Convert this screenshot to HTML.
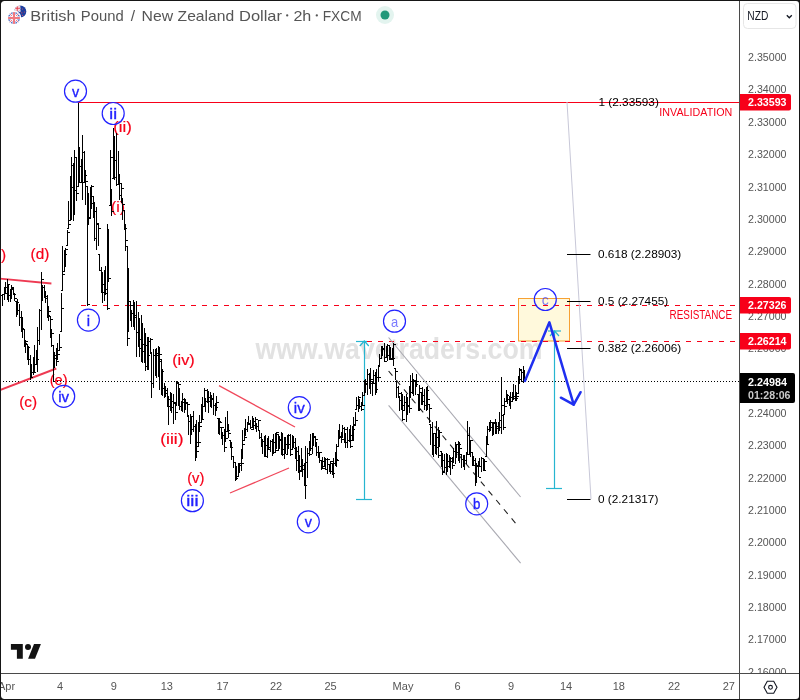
<!DOCTYPE html>
<html><head><meta charset="utf-8"><style>
html,body{margin:0;padding:0;background:#161616;width:800px;height:700px;overflow:hidden}
svg{display:block;font-family:"Liberation Sans",sans-serif;will-change:transform}
</style></head><body>
<svg width="800" height="700" viewBox="0 0 800 700">
<rect x="0" y="0" width="800" height="700" fill="#161616"/><rect x="1" y="1" width="798" height="698" rx="3" fill="#ffffff"/><text x="255.5" y="358.8" font-size="29" font-weight="bold" fill="#e2e2e2" textLength="287" lengthAdjust="spacingAndGlyphs">www.wavetraders.com</text><rect x="518.5" y="298.5" width="51" height="42.5" fill="#fff9dc" stroke="#f7a133" stroke-width="1"/><line x1="78" y1="102.5" x2="739" y2="102.5" stroke="#f70019" stroke-width="1"/><line x1="81" y1="305.5" x2="739" y2="305.5" stroke="#f70019" stroke-width="1" stroke-dasharray="5 6"/><line x1="367" y1="341.5" x2="739" y2="341.5" stroke="#f70019" stroke-width="1" stroke-dasharray="5 6"/><line x1="0" y1="381.5" x2="739" y2="381.5" stroke="#000" stroke-width="1" stroke-dasharray="1 2"/><g stroke="#ee3a52" stroke-width="1.9" fill="none"><line x1="0" y1="278.6" x2="51.4" y2="283.5"/><line x1="0" y1="390" x2="56.3" y2="368.5"/></g><g stroke="#f0475a" stroke-width="1.25" fill="none"><line x1="219" y1="385.6" x2="295" y2="427"/><line x1="230" y1="493" x2="289" y2="468"/></g><g stroke="#a8a8b0" stroke-width="1.1" fill="none"><line x1="388.6" y1="337.5" x2="520.6" y2="497"/><line x1="388.6" y1="405.4" x2="520.6" y2="563.1"/></g><line x1="388.6" y1="371" x2="518.8" y2="527.1" stroke="#222" stroke-width="1.1" stroke-dasharray="6 6"/><line x1="567" y1="102" x2="591" y2="499" stroke="#c8c8d8" stroke-width="1"/><line x1="567" y1="254.5" x2="590.5" y2="254.5" stroke="#000" stroke-width="1"/><text x="598" y="257.7" font-size="11.8" fill="#000">0.618 (2.28903)</text><line x1="567" y1="301.5" x2="590.5" y2="301.5" stroke="#000" stroke-width="1"/><text x="598" y="304.7" font-size="11.8" fill="#000">0.5 (2.27455)</text><line x1="567" y1="348.5" x2="590.5" y2="348.5" stroke="#000" stroke-width="1"/><text x="598" y="351.7" font-size="11.8" fill="#000">0.382 (2.26006)</text><line x1="567" y1="499.5" x2="590.5" y2="499.5" stroke="#000" stroke-width="1"/><text x="598" y="502.7" font-size="11.8" fill="#000">0 (2.21317)</text><text x="598.5" y="106" font-size="11.8" fill="#000">1 (2.33593)</text><text x="659.3" y="116" font-size="11.6" fill="#f70019" textLength="73" lengthAdjust="spacingAndGlyphs">INVALIDATION</text><text x="669.6" y="318.8" font-size="12" fill="#f70019" textLength="62.5" lengthAdjust="spacingAndGlyphs">RESISTANCE</text><g stroke="#26b5d0" stroke-width="1.2" fill="none"><line x1="364.5" y1="341.5" x2="364.5" y2="499.5"/><line x1="356" y1="499.5" x2="372" y2="499.5"/><line x1="356" y1="341.5" x2="367" y2="341.5"/><polyline points="359.8,346 364.3,341 368.8,346"/><line x1="554.5" y1="331" x2="554.5" y2="488.5"/><line x1="546" y1="488.5" x2="562" y2="488.5"/><line x1="548" y1="331" x2="561" y2="331"/><polyline points="550,336 554.5,331 559,336"/></g><text x="118" y="211.5" text-anchor="middle" font-size="15" fill="#f70019" stroke="#f70019" stroke-width="0.2" textLength="14.0" lengthAdjust="spacingAndGlyphs">(i)</text><text x="122.5" y="131.5" text-anchor="middle" font-size="15" fill="#f70019" stroke="#f70019" stroke-width="0.2" textLength="18.5" lengthAdjust="spacingAndGlyphs">(ii)</text><text x="40" y="258.6" text-anchor="middle" font-size="15" fill="#f70019" stroke="#f70019" stroke-width="0.2" textLength="18.8" lengthAdjust="spacingAndGlyphs">(d)</text><text x="-3.3" y="259.6" text-anchor="middle" font-size="15" fill="#f70019" stroke="#f70019" stroke-width="0.2" textLength="18.8" lengthAdjust="spacingAndGlyphs">(b)</text><text x="58.7" y="385.3" text-anchor="middle" font-size="15" fill="#f70019" stroke="#f70019" stroke-width="0.2" textLength="18.0" lengthAdjust="spacingAndGlyphs">(e)</text><text x="28.1" y="406.5" text-anchor="middle" font-size="15" fill="#f70019" stroke="#f70019" stroke-width="0.2" textLength="17.9" lengthAdjust="spacingAndGlyphs">(c)</text><text x="183.4" y="365.1" text-anchor="middle" font-size="15" fill="#f70019" stroke="#f70019" stroke-width="0.2" textLength="22.5" lengthAdjust="spacingAndGlyphs">(iv)</text><text x="171.9" y="443.8" text-anchor="middle" font-size="15" fill="#f70019" stroke="#f70019" stroke-width="0.2" textLength="23.2" lengthAdjust="spacingAndGlyphs">(iii)</text><text x="195.8" y="482.9" text-anchor="middle" font-size="15" fill="#f70019" stroke="#f70019" stroke-width="0.2" textLength="17.2" lengthAdjust="spacingAndGlyphs">(v)</text><path d="M0.5 294V303M-1.5 300.5h2M0.5 295.5h2M2.5 294V306M0.5 295.5h2M2.5 294.5h2M4.5 287V300M2.5 294.5h2M4.5 293.5h2M5.5 282V293M3.5 293.5h2M5.5 287.5h2M7.5 279V300M5.5 287.5h2M7.5 284.5h2M8.5 285V302M6.5 285.5h2M8.5 295.5h2M10.5 289V302M8.5 295.5h2M10.5 289.5h2M11.5 285V299M9.5 289.5h2M11.5 287.5h2M13.5 288V295M11.5 288.5h2M13.5 294.5h2M14.5 293V301M12.5 294.5h2M14.5 298.5h2M16.5 301V317M14.5 301.5h2M16.5 302.5h2M17.5 299V315M15.5 302.5h2M17.5 310.5h2M19.5 304V326M17.5 310.5h2M19.5 317.5h2M21.5 311V332M19.5 317.5h2M21.5 328.5h2M22.5 317V338M20.5 328.5h2M22.5 329.5h2M24.5 329V347M22.5 329.5h2M24.5 343.5h2M25.5 340V353M23.5 343.5h2M25.5 341.5h2M27.5 344V360M25.5 344.5h2M27.5 347.5h2M28.5 346V365M26.5 347.5h2M28.5 359.5h2M30.5 355V380M28.5 359.5h2M30.5 377.5h2M31.5 364V377M29.5 377.5h2M31.5 372.5h2M33.5 357V375M31.5 372.5h2M33.5 372.5h2M34.5 345V373M32.5 372.5h2M34.5 364.5h2M36.5 350V364M34.5 364.5h2M36.5 359.5h2M37.5 327V372M35.5 359.5h2M37.5 340.5h2M39.5 309V345M37.5 340.5h2M39.5 310.5h2M41.5 272V330M39.5 310.5h2M41.5 279.5h2M42.5 285V301M40.5 285.5h2M42.5 287.5h2M44.5 285V298M42.5 287.5h2M44.5 296.5h2M45.5 291V303M43.5 296.5h2M45.5 298.5h2M47.5 295V318M45.5 298.5h2M47.5 315.5h2M48.5 306V321M46.5 315.5h2M48.5 311.5h2M50.5 316V338M48.5 316.5h2M50.5 319.5h2M51.5 329V347M49.5 329.5h2M51.5 333.5h2M53.5 345V382M51.5 345.5h2M53.5 355.5h2M54.5 352V368M52.5 355.5h2M54.5 358.5h2M56.5 348V366M54.5 358.5h2M56.5 361.5h2M57.5 343V359M55.5 359.5h2M57.5 354.5h2M59.5 334V350M57.5 350.5h2M59.5 347.5h2M61.5 293V331M59.5 331.5h2M61.5 308.5h2M62.5 246V290M60.5 290.5h2M62.5 274.5h2M64.5 250V271M62.5 271.5h2M64.5 254.5h2M65.5 248V267M63.5 254.5h2M65.5 249.5h2M67.5 230V245M65.5 245.5h2M67.5 232.5h2M68.5 201V228M66.5 228.5h2M68.5 224.5h2M70.5 176V220M68.5 220.5h2M70.5 187.5h2M71.5 157V220M69.5 187.5h2M71.5 165.5h2M73.5 163V221M71.5 165.5h2M73.5 190.5h2M74.5 150V215M72.5 190.5h2M74.5 157.5h2M76.5 157V201M74.5 157.5h2M76.5 193.5h2M78.5 103V186M76.5 186.5h2M78.5 182.5h2M79.5 147V182M77.5 182.5h2M79.5 166.5h2M81.5 159V182M79.5 166.5h2M81.5 182.5h2M82.5 135V200M80.5 182.5h2M82.5 152.5h2M84.5 151V183M82.5 152.5h2M84.5 175.5h2M85.5 170V205M83.5 175.5h2M85.5 181.5h2M87.5 186V306M85.5 186.5h2M87.5 304.5h2M88.5 193V224M86.5 224.5h2M88.5 218.5h2M90.5 187V217M88.5 217.5h2M90.5 203.5h2M91.5 185V209M89.5 203.5h2M91.5 186.5h2M93.5 196V218M91.5 196.5h2M93.5 211.5h2M94.5 202V241M92.5 211.5h2M94.5 238.5h2M96.5 207V250M94.5 238.5h2M96.5 223.5h2M98.5 224V246M96.5 224.5h2M98.5 228.5h2M99.5 254V271M97.5 254.5h2M99.5 270.5h2M101.5 267V293M99.5 270.5h2M101.5 284.5h2M102.5 272V303M100.5 284.5h2M102.5 292.5h2M104.5 270V301M102.5 292.5h2M104.5 293.5h2M105.5 266V295M103.5 293.5h2M105.5 289.5h2M107.5 224V310M105.5 289.5h2M107.5 308.5h2M108.5 229V281M106.5 281.5h2M108.5 278.5h2M110.5 150V205M108.5 205.5h2M110.5 157.5h2M111.5 189V216M109.5 189.5h2M111.5 211.5h2M113.5 128V178M111.5 178.5h2M113.5 177.5h2M114.5 136V180M112.5 177.5h2M114.5 160.5h2M116.5 133V186M114.5 160.5h2M116.5 184.5h2M118.5 151V185M116.5 184.5h2M118.5 183.5h2M119.5 174V200M117.5 183.5h2M119.5 195.5h2M121.5 183V203M119.5 195.5h2M121.5 188.5h2M122.5 198V220M120.5 198.5h2M122.5 204.5h2M124.5 210V230M122.5 210.5h2M124.5 228.5h2M125.5 224V251M123.5 228.5h2M125.5 240.5h2M127.5 246V346M125.5 246.5h2M127.5 338.5h2M128.5 268V331M126.5 331.5h2M128.5 301.5h2M130.5 301V321M128.5 301.5h2M130.5 305.5h2M131.5 310V327M129.5 310.5h2M131.5 313.5h2M133.5 300V327M131.5 313.5h2M133.5 315.5h2M134.5 302V330M132.5 315.5h2M134.5 317.5h2M136.5 301V357M134.5 317.5h2M136.5 332.5h2M138.5 312V347M136.5 332.5h2M138.5 339.5h2M139.5 318V357M137.5 339.5h2M139.5 348.5h2M141.5 315V362M139.5 348.5h2M141.5 344.5h2M142.5 323V363M140.5 344.5h2M142.5 351.5h2M144.5 328V363M142.5 351.5h2M144.5 345.5h2M145.5 333V371M143.5 345.5h2M145.5 366.5h2M147.5 337V370M145.5 366.5h2M147.5 355.5h2M148.5 337V370M146.5 355.5h2M148.5 341.5h2M150.5 338V354M148.5 341.5h2M150.5 339.5h2M151.5 352V398M149.5 352.5h2M151.5 383.5h2M153.5 349V388M151.5 383.5h2M153.5 355.5h2M155.5 349V376M153.5 355.5h2M155.5 353.5h2M156.5 348V378M154.5 353.5h2M156.5 355.5h2M158.5 346V377M156.5 355.5h2M158.5 361.5h2M159.5 347V390M157.5 361.5h2M159.5 354.5h2M161.5 359V395M159.5 359.5h2M161.5 371.5h2M162.5 369V396M160.5 371.5h2M162.5 388.5h2M164.5 383V398M162.5 388.5h2M164.5 390.5h2M165.5 386V397M163.5 390.5h2M165.5 393.5h2M167.5 388V407M165.5 393.5h2M167.5 406.5h2M168.5 396V425M166.5 406.5h2M168.5 399.5h2M170.5 392V411M168.5 399.5h2M170.5 407.5h2M171.5 393V413M169.5 407.5h2M171.5 401.5h2M173.5 394V424M171.5 401.5h2M173.5 402.5h2M175.5 403V420M173.5 403.5h2M175.5 412.5h2M176.5 381V405M174.5 405.5h2M176.5 382.5h2M178.5 383V406M176.5 383.5h2M178.5 384.5h2M179.5 388V410M177.5 388.5h2M179.5 406.5h2M181.5 401V411M179.5 406.5h2M181.5 402.5h2M182.5 393V412M180.5 402.5h2M182.5 399.5h2M184.5 398V413M182.5 399.5h2M184.5 402.5h2M185.5 399V410M183.5 402.5h2M185.5 402.5h2M187.5 403V417M185.5 403.5h2M187.5 404.5h2M188.5 415V435M186.5 415.5h2M188.5 421.5h2M190.5 414V444M188.5 421.5h2M190.5 429.5h2M191.5 416V435M189.5 429.5h2M191.5 416.5h2M193.5 411V432M191.5 416.5h2M193.5 426.5h2M195.5 424V461M193.5 426.5h2M195.5 442.5h2M196.5 420V458M194.5 442.5h2M196.5 451.5h2M198.5 422V446M196.5 446.5h2M198.5 442.5h2M199.5 415V431M197.5 431.5h2M199.5 426.5h2M201.5 404V422M199.5 422.5h2M201.5 419.5h2M202.5 397V418M200.5 418.5h2M202.5 406.5h2M204.5 388V407M202.5 406.5h2M204.5 390.5h2M205.5 398V412M203.5 398.5h2M205.5 401.5h2M207.5 389V403M205.5 401.5h2M207.5 401.5h2M208.5 391V413M206.5 401.5h2M208.5 397.5h2M210.5 392V407M208.5 397.5h2M210.5 399.5h2M211.5 395V408M209.5 399.5h2M211.5 398.5h2M213.5 393V415M211.5 398.5h2M213.5 405.5h2M215.5 403V416M213.5 405.5h2M215.5 407.5h2M216.5 396V411M214.5 407.5h2M216.5 402.5h2M218.5 418V434M216.5 418.5h2M218.5 421.5h2M219.5 418V435M217.5 421.5h2M219.5 422.5h2M221.5 427V439M219.5 427.5h2M221.5 427.5h2M222.5 432V445M220.5 432.5h2M222.5 435.5h2M224.5 429V452M222.5 435.5h2M224.5 447.5h2M225.5 417V441M223.5 441.5h2M225.5 438.5h2M227.5 411V431M225.5 431.5h2M227.5 430.5h2M228.5 424V438M226.5 430.5h2M228.5 433.5h2M230.5 440V448M228.5 440.5h2M230.5 447.5h2M231.5 442V460M229.5 447.5h2M231.5 456.5h2M233.5 456V468M231.5 456.5h2M233.5 462.5h2M235.5 462V481M233.5 462.5h2M235.5 478.5h2M236.5 466V480M234.5 478.5h2M236.5 476.5h2M238.5 463V477M236.5 476.5h2M238.5 463.5h2M239.5 464V473M237.5 464.5h2M239.5 465.5h2M241.5 449V471M239.5 465.5h2M241.5 463.5h2M242.5 430V458M240.5 458.5h2M242.5 444.5h2M244.5 428V440M242.5 440.5h2M244.5 437.5h2M245.5 419V435M243.5 435.5h2M245.5 429.5h2M247.5 422V432M245.5 429.5h2M247.5 424.5h2M248.5 416V425M246.5 424.5h2M248.5 423.5h2M250.5 420V429M248.5 423.5h2M250.5 429.5h2M252.5 416V427M250.5 427.5h2M252.5 421.5h2M253.5 418V430M251.5 421.5h2M253.5 425.5h2M255.5 417V429M253.5 425.5h2M255.5 419.5h2M256.5 423V432M254.5 423.5h2M256.5 426.5h2M258.5 420V431M256.5 426.5h2M258.5 420.5h2M259.5 430V439M257.5 430.5h2M259.5 437.5h2M261.5 433V447M259.5 437.5h2M261.5 441.5h2M262.5 439V454M260.5 441.5h2M262.5 441.5h2M264.5 436V456M262.5 441.5h2M264.5 456.5h2M265.5 435V456M263.5 456.5h2M265.5 445.5h2M267.5 438V458M265.5 445.5h2M267.5 447.5h2M268.5 436V450M266.5 447.5h2M268.5 449.5h2M270.5 440V452M268.5 449.5h2M270.5 441.5h2M272.5 439V456M270.5 441.5h2M272.5 442.5h2M273.5 434V454M271.5 442.5h2M273.5 452.5h2M275.5 433V452M273.5 452.5h2M275.5 450.5h2M276.5 432V448M274.5 448.5h2M276.5 432.5h2M278.5 434V451M276.5 434.5h2M278.5 439.5h2M279.5 436V449M277.5 439.5h2M279.5 440.5h2M281.5 432V455M279.5 440.5h2M281.5 449.5h2M282.5 433V456M280.5 449.5h2M282.5 454.5h2M284.5 437V459M282.5 454.5h2M284.5 444.5h2M285.5 437V454M283.5 444.5h2M285.5 454.5h2M287.5 435V455M285.5 454.5h2M287.5 444.5h2M288.5 434V449M286.5 444.5h2M288.5 435.5h2M290.5 434V456M288.5 435.5h2M290.5 454.5h2M292.5 435V449M290.5 449.5h2M292.5 442.5h2M293.5 436V448M291.5 442.5h2M293.5 448.5h2M295.5 438V459M293.5 448.5h2M295.5 451.5h2M296.5 447V471M294.5 451.5h2M296.5 460.5h2M298.5 446V473M296.5 460.5h2M298.5 466.5h2M299.5 455V480M297.5 466.5h2M299.5 471.5h2M301.5 448V470M299.5 470.5h2M301.5 469.5h2M302.5 459V477M300.5 469.5h2M302.5 465.5h2M304.5 463V486M302.5 465.5h2M304.5 485.5h2M305.5 446V499M303.5 485.5h2M305.5 462.5h2M307.5 448V478M305.5 462.5h2M307.5 453.5h2M309.5 441V456M307.5 453.5h2M309.5 454.5h2M310.5 434V450M308.5 450.5h2M310.5 448.5h2M312.5 433V454M310.5 448.5h2M312.5 436.5h2M313.5 433V446M311.5 436.5h2M313.5 437.5h2M315.5 436V447M313.5 437.5h2M315.5 439.5h2M316.5 442V456M314.5 442.5h2M316.5 452.5h2M318.5 446V458M316.5 452.5h2M318.5 452.5h2M319.5 452V463M317.5 452.5h2M319.5 452.5h2M321.5 460V470M319.5 460.5h2M321.5 461.5h2M322.5 457V469M320.5 461.5h2M322.5 468.5h2M324.5 457V466M322.5 466.5h2M324.5 459.5h2M325.5 458V470M323.5 459.5h2M325.5 469.5h2M327.5 458V474M325.5 469.5h2M327.5 459.5h2M329.5 464V472M327.5 464.5h2M329.5 471.5h2M330.5 461V474M328.5 471.5h2M330.5 461.5h2M332.5 463V475M330.5 463.5h2M332.5 473.5h2M333.5 458V478M331.5 473.5h2M333.5 463.5h2M335.5 452V466M333.5 463.5h2M335.5 459.5h2M336.5 444V467M334.5 459.5h2M336.5 460.5h2M338.5 430V446M336.5 446.5h2M338.5 437.5h2M339.5 424V439M337.5 437.5h2M339.5 436.5h2M341.5 432V443M339.5 436.5h2M341.5 439.5h2M342.5 425V437M340.5 437.5h2M342.5 428.5h2M344.5 427V443M342.5 428.5h2M344.5 429.5h2M345.5 433V448M343.5 433.5h2M345.5 442.5h2M347.5 427V448M345.5 442.5h2M347.5 440.5h2M349.5 429V442M347.5 440.5h2M349.5 435.5h2M350.5 425V448M348.5 435.5h2M350.5 446.5h2M352.5 426V440M350.5 440.5h2M352.5 429.5h2M353.5 417V441M351.5 429.5h2M353.5 425.5h2M355.5 412V424M353.5 424.5h2M355.5 420.5h2M356.5 397V409M354.5 409.5h2M356.5 405.5h2M358.5 396V412M356.5 405.5h2M358.5 397.5h2M359.5 399V409M357.5 399.5h2M359.5 406.5h2M361.5 402V411M359.5 406.5h2M361.5 409.5h2M362.5 392V405M360.5 405.5h2M362.5 405.5h2M364.5 380V395M362.5 395.5h2M364.5 384.5h2M365.5 379V393M363.5 384.5h2M365.5 383.5h2M367.5 369V395M365.5 383.5h2M367.5 374.5h2M369.5 373V389M367.5 374.5h2M369.5 383.5h2M370.5 368V394M368.5 383.5h2M370.5 379.5h2M372.5 381V396M370.5 381.5h2M372.5 383.5h2M373.5 370V383M371.5 383.5h2M373.5 375.5h2M375.5 372V395M373.5 375.5h2M375.5 389.5h2M376.5 369V393M374.5 389.5h2M376.5 377.5h2M378.5 365V381M376.5 377.5h2M378.5 377.5h2M379.5 354V366M377.5 366.5h2M379.5 358.5h2M381.5 346V359M379.5 358.5h2M381.5 348.5h2M382.5 346V356M380.5 348.5h2M382.5 349.5h2M384.5 343V362M382.5 349.5h2M384.5 361.5h2M386.5 346V357M384.5 357.5h2M386.5 355.5h2M387.5 344V361M385.5 355.5h2M387.5 345.5h2M389.5 345V360M387.5 345.5h2M389.5 359.5h2M390.5 347V359M388.5 359.5h2M390.5 358.5h2M392.5 348V360M390.5 358.5h2M392.5 358.5h2M393.5 343V366M391.5 358.5h2M393.5 344.5h2M395.5 368V380M393.5 368.5h2M395.5 371.5h2M396.5 381V398M394.5 381.5h2M396.5 387.5h2M398.5 386V398M396.5 387.5h2M398.5 393.5h2M399.5 396V411M397.5 396.5h2M399.5 400.5h2M401.5 392V410M399.5 400.5h2M401.5 405.5h2M402.5 394V421M400.5 405.5h2M402.5 419.5h2M404.5 396V410M402.5 410.5h2M404.5 402.5h2M406.5 394V422M404.5 402.5h2M406.5 405.5h2M407.5 397V415M405.5 405.5h2M407.5 406.5h2M409.5 386V413M407.5 406.5h2M409.5 408.5h2M410.5 375V397M408.5 397.5h2M410.5 392.5h2M412.5 373V394M410.5 392.5h2M412.5 380.5h2M413.5 379V396M411.5 380.5h2M413.5 380.5h2M415.5 380V395M413.5 380.5h2M415.5 384.5h2M416.5 374V387M414.5 384.5h2M416.5 381.5h2M418.5 394V411M416.5 394.5h2M418.5 409.5h2M419.5 385V411M417.5 409.5h2M419.5 388.5h2M421.5 392V405M419.5 392.5h2M421.5 401.5h2M422.5 387V405M420.5 401.5h2M422.5 395.5h2M424.5 389V410M422.5 395.5h2M424.5 405.5h2M426.5 387V411M424.5 405.5h2M426.5 390.5h2M427.5 386V410M425.5 390.5h2M427.5 399.5h2M429.5 404V423M427.5 404.5h2M429.5 408.5h2M430.5 424V445M428.5 424.5h2M430.5 427.5h2M432.5 422V455M430.5 427.5h2M432.5 433.5h2M433.5 433V457M431.5 433.5h2M433.5 445.5h2M435.5 433V454M433.5 445.5h2M435.5 447.5h2M436.5 421V455M434.5 447.5h2M436.5 437.5h2M438.5 427V458M436.5 437.5h2M438.5 455.5h2M439.5 430V446M437.5 446.5h2M439.5 432.5h2M441.5 451V467M439.5 451.5h2M441.5 460.5h2M442.5 453V475M440.5 460.5h2M442.5 472.5h2M444.5 454V471M442.5 471.5h2M444.5 467.5h2M446.5 453V475M444.5 467.5h2M446.5 466.5h2M447.5 454V472M445.5 466.5h2M447.5 461.5h2M449.5 455V468M447.5 461.5h2M449.5 458.5h2M450.5 457V475M448.5 458.5h2M450.5 461.5h2M452.5 457V469M450.5 461.5h2M452.5 465.5h2M453.5 448V462M451.5 462.5h2M453.5 451.5h2M455.5 442V464M453.5 451.5h2M455.5 444.5h2M456.5 445V458M454.5 445.5h2M456.5 452.5h2M458.5 441V461M456.5 452.5h2M458.5 444.5h2M459.5 442V463M457.5 444.5h2M459.5 448.5h2M461.5 454V468M459.5 454.5h2M461.5 459.5h2M463.5 455V467M461.5 459.5h2M463.5 460.5h2M464.5 455V470M462.5 460.5h2M464.5 460.5h2M466.5 452V464M464.5 460.5h2M466.5 454.5h2M467.5 421V455M465.5 454.5h2M467.5 435.5h2M469.5 427V455M467.5 435.5h2M469.5 452.5h2M470.5 440V457M468.5 452.5h2M470.5 440.5h2M472.5 452V466M470.5 452.5h2M472.5 465.5h2M473.5 456V466M471.5 465.5h2M473.5 460.5h2M475.5 458V486M473.5 460.5h2M475.5 466.5h2M476.5 463V483M474.5 466.5h2M476.5 465.5h2M478.5 461V477M476.5 465.5h2M478.5 477.5h2M479.5 458V466M477.5 466.5h2M479.5 466.5h2M481.5 457V472M479.5 466.5h2M481.5 458.5h2M483.5 458V471M481.5 458.5h2M483.5 470.5h2M484.5 459V471M482.5 470.5h2M484.5 461.5h2M486.5 436V456M484.5 456.5h2M486.5 444.5h2M487.5 426V444M485.5 444.5h2M487.5 429.5h2M489.5 422V432M487.5 429.5h2M489.5 427.5h2M490.5 420V431M488.5 427.5h2M490.5 422.5h2M492.5 422V436M490.5 422.5h2M492.5 422.5h2M493.5 422V435M491.5 422.5h2M493.5 423.5h2M495.5 419V434M493.5 423.5h2M495.5 428.5h2M496.5 422V434M494.5 428.5h2M496.5 426.5h2M498.5 422V434M496.5 426.5h2M498.5 427.5h2M499.5 412V431M497.5 427.5h2M499.5 420.5h2M501.5 377V434M499.5 420.5h2M501.5 405.5h2M503.5 415V430M501.5 415.5h2M503.5 427.5h2M504.5 398V414M502.5 414.5h2M504.5 406.5h2M506.5 390V401M504.5 401.5h2M506.5 395.5h2M507.5 394V404M505.5 395.5h2M507.5 399.5h2M509.5 396V406M507.5 399.5h2M509.5 397.5h2M510.5 392V409M508.5 397.5h2M510.5 401.5h2M512.5 392V401M510.5 401.5h2M512.5 396.5h2M513.5 384V400M511.5 396.5h2M513.5 398.5h2M515.5 385V401M513.5 398.5h2M515.5 398.5h2M516.5 392V401M514.5 398.5h2M516.5 396.5h2M518.5 376V393M516.5 393.5h2M518.5 379.5h2M519.5 368V384M517.5 379.5h2M519.5 369.5h2M521.5 370V382M519.5 370.5h2M521.5 372.5h2M523.5 366V383M521.5 372.5h2M523.5 379.5h2M524.5 370V379M522.5 379.5h2M524.5 379.5h2" stroke="#000" stroke-width="1" fill="none" shape-rendering="crispEdges"/><circle cx="545.3" cy="299.5" r="11" fill="none" stroke="#2222ff" stroke-width="1.2"/><text x="545.3" y="304.9" text-anchor="middle" font-size="15" fill="#2222ff" stroke="#2222ff" stroke-width="0" opacity="0.6" textLength="7.0" lengthAdjust="spacingAndGlyphs">c</text><circle cx="75.5" cy="91.2" r="11" fill="none" stroke="#2222ff" stroke-width="1.2"/><text x="75.5" y="96.6" text-anchor="middle" font-size="15" fill="#2222ff" stroke="#2222ff" stroke-width="0.35" textLength="7.2" lengthAdjust="spacingAndGlyphs">v</text><circle cx="113.2" cy="113.5" r="11" fill="none" stroke="#2222ff" stroke-width="1.2"/><text x="113.2" y="118.9" text-anchor="middle" font-size="15" fill="#2222ff" stroke="#2222ff" stroke-width="0.35" textLength="7.7" lengthAdjust="spacingAndGlyphs">ii</text><circle cx="88.4" cy="320.1" r="11" fill="none" stroke="#2222ff" stroke-width="1.2"/><text x="88.4" y="325.5" text-anchor="middle" font-size="15" fill="#2222ff" stroke="#2222ff" stroke-width="0.35" textLength="3.3" lengthAdjust="spacingAndGlyphs">i</text><circle cx="63.7" cy="396.3" r="11" fill="none" stroke="#2222ff" stroke-width="1.2"/><text x="63.7" y="401.7" text-anchor="middle" font-size="15" fill="#2222ff" stroke="#2222ff" stroke-width="0.35" textLength="10.9" lengthAdjust="spacingAndGlyphs">iv</text><circle cx="192.4" cy="500.7" r="11" fill="none" stroke="#2222ff" stroke-width="1.2"/><text x="192.4" y="506.1" text-anchor="middle" font-size="15" fill="#2222ff" stroke="#2222ff" stroke-width="0.35" textLength="12.2" lengthAdjust="spacingAndGlyphs">iii</text><circle cx="299.3" cy="407.6" r="11" fill="none" stroke="#2222ff" stroke-width="1.2"/><text x="299.3" y="413.0" text-anchor="middle" font-size="15" fill="#2222ff" stroke="#2222ff" stroke-width="0.35" textLength="10.9" lengthAdjust="spacingAndGlyphs">iv</text><circle cx="308.3" cy="521.8" r="11" fill="none" stroke="#2222ff" stroke-width="1.2"/><text x="308.3" y="527.2" text-anchor="middle" font-size="15" fill="#2222ff" stroke="#2222ff" stroke-width="0.35" textLength="7.2" lengthAdjust="spacingAndGlyphs">v</text><circle cx="394.5" cy="321.2" r="11" fill="none" stroke="#2222ff" stroke-width="1.2"/><text x="394.5" y="326.6" text-anchor="middle" font-size="15" fill="#2222ff" stroke="#2222ff" stroke-width="0" opacity="0.6" textLength="7.2" lengthAdjust="spacingAndGlyphs">a</text><circle cx="476.7" cy="503.8" r="11" fill="none" stroke="#2222ff" stroke-width="1.2"/><text x="476.7" y="509.2" text-anchor="middle" font-size="15" fill="#2222ff" stroke="#2222ff" stroke-width="0.35" textLength="7.4" lengthAdjust="spacingAndGlyphs">b</text><g stroke="#1f2ff0" stroke-width="2.5" fill="none" stroke-linejoin="round" stroke-linecap="round"><polyline points="524.9,380.9 549.4,322.3 573.7,404.6"/><polyline points="560.9,397.7 573.7,404.6 580.6,392.2"/></g><rect x="740" y="1" width="59" height="672" fill="#fff"/><line x1="739.5" y1="1" x2="739.5" y2="699" stroke="#4a4a4a" stroke-width="1"/><line x1="1" y1="673.5" x2="799" y2="673.5" stroke="#4a4a4a" stroke-width="1"/><text x="748" y="61.1" font-size="11" fill="#555" textLength="38.5" lengthAdjust="spacingAndGlyphs">2.35000</text><text x="748" y="93.4" font-size="11" fill="#555" textLength="38.5" lengthAdjust="spacingAndGlyphs">2.34000</text><text x="748" y="125.8" font-size="11" fill="#555" textLength="38.5" lengthAdjust="spacingAndGlyphs">2.33000</text><text x="748" y="158.1" font-size="11" fill="#555" textLength="38.5" lengthAdjust="spacingAndGlyphs">2.32000</text><text x="748" y="190.5" font-size="11" fill="#555" textLength="38.5" lengthAdjust="spacingAndGlyphs">2.31000</text><text x="748" y="222.8" font-size="11" fill="#555" textLength="38.5" lengthAdjust="spacingAndGlyphs">2.30000</text><text x="748" y="255.1" font-size="11" fill="#555" textLength="38.5" lengthAdjust="spacingAndGlyphs">2.29000</text><text x="748" y="287.5" font-size="11" fill="#555" textLength="38.5" lengthAdjust="spacingAndGlyphs">2.28000</text><text x="748" y="319.8" font-size="11" fill="#555" textLength="38.5" lengthAdjust="spacingAndGlyphs">2.27000</text><text x="748" y="352.2" font-size="11" fill="#555" textLength="38.5" lengthAdjust="spacingAndGlyphs">2.26000</text><text x="748" y="384.5" font-size="11" fill="#555" textLength="38.5" lengthAdjust="spacingAndGlyphs">2.25000</text><text x="748" y="416.8" font-size="11" fill="#555" textLength="38.5" lengthAdjust="spacingAndGlyphs">2.24000</text><text x="748" y="449.2" font-size="11" fill="#555" textLength="38.5" lengthAdjust="spacingAndGlyphs">2.23000</text><text x="748" y="481.5" font-size="11" fill="#555" textLength="38.5" lengthAdjust="spacingAndGlyphs">2.22000</text><text x="748" y="513.9" font-size="11" fill="#555" textLength="38.5" lengthAdjust="spacingAndGlyphs">2.21000</text><text x="748" y="546.2" font-size="11" fill="#555" textLength="38.5" lengthAdjust="spacingAndGlyphs">2.20000</text><text x="748" y="578.5" font-size="11" fill="#555" textLength="38.5" lengthAdjust="spacingAndGlyphs">2.19000</text><text x="748" y="610.9" font-size="11" fill="#555" textLength="38.5" lengthAdjust="spacingAndGlyphs">2.18000</text><text x="748" y="643.2" font-size="11" fill="#555" textLength="38.5" lengthAdjust="spacingAndGlyphs">2.17000</text><text x="748" y="675.6" font-size="11" fill="#555" textLength="38.5" lengthAdjust="spacingAndGlyphs">2.16000</text><rect x="740" y="673" width="59" height="26" fill="#fff"/><line x1="739.5" y1="673" x2="739.5" y2="699" stroke="#4a4a4a" stroke-width="1"/><line x1="1" y1="673.5" x2="799" y2="673.5" stroke="#4a4a4a" stroke-width="1"/><path d="M740 93.95 H789 q2 0 2 2 V108.45 q0 2 -2 2 H740 Z" fill="#f70019"/><text x="748" y="106.2" font-size="11" font-weight="bold" fill="#fff" textLength="38.5" lengthAdjust="spacingAndGlyphs">2.33593</text><path d="M740 297.05 H789 q2 0 2 2 V311.55 q0 2 -2 2 H740 Z" fill="#f70019"/><text x="748" y="309.3" font-size="11" font-weight="bold" fill="#fff" textLength="38.5" lengthAdjust="spacingAndGlyphs">2.27326</text><path d="M740 333.05 H789 q2 0 2 2 V347.55 q0 2 -2 2 H740 Z" fill="#f70019"/><text x="748" y="345.3" font-size="11" font-weight="bold" fill="#fff" textLength="38.5" lengthAdjust="spacingAndGlyphs">2.26214</text><path d="M740 373 H793 q2 0 2 2 V401 q0 2 -2 2 H740 Z" fill="#000"/><text x="748" y="386" font-size="11" font-weight="bold" fill="#fff" textLength="39" lengthAdjust="spacingAndGlyphs">2.24984</text><text x="748" y="399.2" font-size="11" font-weight="bold" fill="#c8c8c8" textLength="42.5" lengthAdjust="spacingAndGlyphs">01:28:06</text><rect x="743.5" y="3.5" width="52.5" height="25" rx="4" fill="#fff" stroke="#e6e6e6" stroke-width="1"/><text x="747.3" y="20" font-size="12.3" fill="#131722" textLength="21" lengthAdjust="spacingAndGlyphs">NZD</text><polyline points="786.8,15.3 789.3,17.8 791.8,15.3" fill="none" stroke="#131722" stroke-width="1.3"/><text x="6.5" y="690" text-anchor="middle" font-size="11" fill="#555">Apr</text><text x="60" y="690" text-anchor="middle" font-size="11" fill="#555">4</text><text x="113.8" y="690" text-anchor="middle" font-size="11" fill="#555">9</text><text x="166.8" y="690" text-anchor="middle" font-size="11" fill="#555">13</text><text x="222.5" y="690" text-anchor="middle" font-size="11" fill="#555">17</text><text x="276" y="690" text-anchor="middle" font-size="11" fill="#555">22</text><text x="330.5" y="690" text-anchor="middle" font-size="11" fill="#555">25</text><text x="403" y="690" text-anchor="middle" font-size="11" fill="#555">May</text><text x="457.5" y="690" text-anchor="middle" font-size="11" fill="#555">6</text><text x="511" y="690" text-anchor="middle" font-size="11" fill="#555">9</text><text x="566" y="690" text-anchor="middle" font-size="11" fill="#555">14</text><text x="618.8" y="690" text-anchor="middle" font-size="11" fill="#555">18</text><text x="674" y="690" text-anchor="middle" font-size="11" fill="#555">22</text><text x="728.8" y="690" text-anchor="middle" font-size="11" fill="#555">27</text><polygon points="764,687.3 767.3,681.3 773.7,681.3 777,687.3 773.7,693.3 767.3,693.3" fill="none" stroke="#131722" stroke-width="1.1"/><circle cx="770.5" cy="687.3" r="1.9" fill="none" stroke="#131722" stroke-width="1.1"/><clipPath id="nz"><circle cx="20.3" cy="11.6" r="6"/></clipPath><g clip-path="url(#nz)"><rect x="14" y="5" width="13" height="13" fill="#1d3f9e"/><rect x="14" y="5" width="6.3" height="6.6" fill="#c9d3ee"/><path d="M14 5 L20.3 11.6 M20.3 5 L14 11.6" stroke="#fff" stroke-width="1.4"/><path d="M14 5 L20.3 11.6 M20.3 5 L14 11.6" stroke="#e86a78" stroke-width="0.6"/><path d="M17.2 5 V11.6 M14 8.3 H20.3" stroke="#fff" stroke-width="1.8"/><path d="M17.2 5 V11.6 M14 8.3 H20.3" stroke="#e23c4c" stroke-width="1.1"/><circle cx="22.5" cy="9" r="0.6" fill="#e05060"/><circle cx="24.4" cy="12" r="0.6" fill="#e05060"/><circle cx="21.8" cy="12.8" r="0.6" fill="#e05060"/><circle cx="22.6" cy="15.3" r="0.6" fill="#e05060"/></g><circle cx="14" cy="17.9" r="7.3" fill="#fff"/><g><clipPath id="uk"><circle cx="14" cy="17.9" r="6"/></clipPath><g clip-path="url(#uk)"><rect x="8" y="11.9" width="12" height="12" fill="#3458b8"/><path d="M8 11.9 L20 23.9 M20 11.9 L8 23.9" stroke="#fff" stroke-width="2.4"/><path d="M8 11.9 L20 23.9 M20 11.9 L8 23.9" stroke="#f0707a" stroke-width="1"/><path d="M14 11.9 V23.9 M8 17.9 H20" stroke="#fff" stroke-width="3.2"/><path d="M14 11.9 V23.9 M8 17.9 H20" stroke="#f07880" stroke-width="2"/></g></g><text x="30.20" y="20.5" font-size="15" fill="#555" textLength="45.40" lengthAdjust="spacingAndGlyphs">British</text><text x="80.85" y="20.5" font-size="15" fill="#555" textLength="42.85" lengthAdjust="spacingAndGlyphs">Pound</text><text x="132.925" y="20.5" font-size="15.5" fill="#555" text-anchor="middle">/</text><text x="141.60" y="20.5" font-size="15" fill="#555" textLength="31.60" lengthAdjust="spacingAndGlyphs">New</text><text x="177.60" y="20.5" font-size="15" fill="#555" textLength="56.60" lengthAdjust="spacingAndGlyphs">Zealand</text><text x="239.00" y="20.5" font-size="15" fill="#555" textLength="43.00" lengthAdjust="spacingAndGlyphs">Dollar</text><text x="293.40" y="20.5" font-size="15" fill="#555" textLength="17.90" lengthAdjust="spacingAndGlyphs">2h</text><text x="322.70" y="20.5" font-size="15" fill="#555" textLength="38.90" lengthAdjust="spacingAndGlyphs">FXCM</text><circle cx="287.2" cy="15.4" r="1.15" fill="#555"/><circle cx="316.8" cy="15.4" r="1.15" fill="#555"/><circle cx="385" cy="15" r="9" fill="#e3f4ef"/><circle cx="385" cy="15" r="4.5" fill="#22987a"/><path d="M10.9 644.1 H22.8 V658.8 H16.9 V649.7 H10.9 Z" fill="#131313"/><circle cx="28" cy="646.9" r="3" fill="#131313"/><path d="M34 644.1 H40.9 L35 658.8 H28.1 Z" fill="#131313"/><path fill-rule="evenodd" fill="#161616" d="M0 0H800V700H0Z M4 1H796A3 3 0 0 1 799 4V696A3 3 0 0 1 796 699H4A3 3 0 0 1 1 696V4A3 3 0 0 1 4 1Z"/>
</svg></body></html>
